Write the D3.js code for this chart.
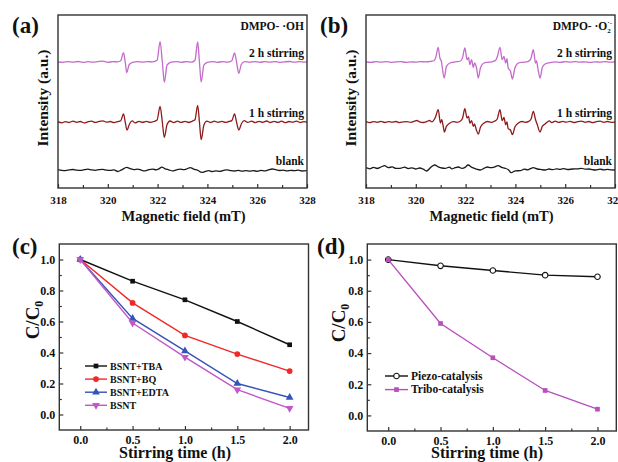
<!DOCTYPE html>
<html>
<head>
<meta charset="utf-8">
<script src="https://cdn.jsdelivr.net/npm/d3@7"></script>
<style>
body { margin: 0; background: #fff; }
svg { display: block; font-family: "Liberation Serif", "Times New Roman", serif; font-weight: bold; }
</style>
</head>
<body>
<svg id="fig" width="618" height="462"></svg>
<script>
// ---- EPR spectra, [field mT, intensity a.u.] ----
var fieldTicks = [318, 320, 322, 324, 326, 328];
var fieldMinor = [319, 321, 323, 325, 327];

var ohStir2h = [[318.0,0.2],[318.2,-0.3],[318.4,0.4],[318.6,-0.2],[318.8,0.5],[319.0,-0.4],[319.2,0.3],[319.4,-0.2],[319.6,0.4],[319.8,0.9],[320.0,-0.3],[320.2,0.3],[320.4,0.2],[320.52,1.2],[320.63,9.4],[320.70,0],[320.76,-10.6],[320.86,-2.5],[321.0,-0.3],[321.2,0.4],[321.4,-0.2],[321.6,0.3],[321.8,0.2],[321.98,1.8],[322.10,20.4],[322.19,0],[322.27,-20.2],[322.38,-3],[322.55,-0.2],[322.75,0.4],[322.95,-0.3],[323.15,0.3],[323.35,-0.2],[323.50,1.8],[323.61,20],[323.68,0],[323.75,-20],[323.86,-3],[324.0,-0.3],[324.2,0.4],[324.4,-0.3],[324.6,0.3],[324.8,-0.2],[324.98,1.2],[325.09,9],[325.17,0],[325.26,-11.4],[325.36,-2.5],[325.5,0.3],[325.7,-0.2],[325.9,0.4],[326.1,-0.3],[326.3,0.3],[326.5,-0.2],[326.7,0.4],[326.9,-0.3],[327.1,0.2],[327.3,0.5],[327.5,-0.2],[327.7,0.3],[327.9,-0.1],[328.0,0.2]];
var ohStir1h = [[318.0,0.4],[318.15,-0.8],[318.3,0.3],[318.45,-0.5],[318.6,0.9],[318.75,-0.3],[318.9,0.5],[319.05,-0.9],[319.2,0.2],[319.35,0.8],[319.5,-0.4],[319.65,0.6],[319.8,1.2],[319.95,-0.2],[320.1,0.5],[320.25,-0.6],[320.4,0.4],[320.52,1.3],[320.63,8],[320.70,0],[320.77,-8],[320.88,-1.5],[320.98,1.2],[321.1,-0.9],[321.25,0.6],[321.4,-0.4],[321.55,0.7],[321.7,-0.3],[321.85,0.5],[321.98,2],[322.10,15.6],[322.19,0],[322.27,-15.4],[322.38,-2.5],[322.5,1],[322.65,-0.6],[322.8,0.8],[322.95,-0.4],[323.1,0.6],[323.25,-0.5],[323.38,0.7],[323.50,2.2],[323.61,16.6],[323.68,0],[323.75,-17.7],[323.86,-3],[323.98,0.9],[324.12,-0.5],[324.28,0.8],[324.42,-0.3],[324.58,0.6],[324.72,-0.4],[324.86,0.5],[324.98,1.4],[325.09,8],[325.17,0],[325.26,-8],[325.37,-1.5],[325.48,1.3],[325.62,-0.4],[325.78,0.9],[325.92,-0.6],[326.08,0.7],[326.22,-0.3],[326.38,1],[326.52,-0.5],[326.68,0.6],[326.82,-0.4],[326.98,0.8],[327.12,-0.6],[327.28,0.5],[327.42,-0.2],[327.58,0.9],[327.72,-0.5],[327.88,0.4],[328.0,-0.2]];
var ohBlank = [[318.0,0.5],[318.15,-0.3],[318.3,-0.6],[318.45,0.2],[318.6,0.5],[318.75,-0.2],[318.9,-0.4],[319.05,0.3],[319.2,0.8],[319.35,0.1],[319.5,-0.3],[319.65,0.4],[319.8,0.6],[319.95,-0.1],[320.1,-0.4],[320.25,0.2],[320.4,-1.5],[320.55,0.1],[320.76,2.6],[320.9,1.4],[321.05,0.4],[321.2,0.9],[321.35,-0.2],[321.5,-0.8],[321.65,0.3],[321.8,0.8],[321.95,0.2],[322.05,1.1],[322.17,2.8],[322.3,1.2],[322.45,0.2],[322.6,-0.9],[322.75,0.1],[322.9,0.8],[323.05,0.3],[323.18,1.2],[323.31,2.4],[323.45,0.9],[323.6,-0.2],[323.78,-2.4],[323.92,-1.4],[324.05,-0.6],[324.2,-1.6],[324.35,-0.8],[324.5,-1.3],[324.65,-0.4],[324.8,0.2],[324.95,-0.7],[325.1,-1.0],[325.25,-0.4],[325.4,-1.2],[325.55,-0.6],[325.7,-1.1],[325.85,-0.7],[326.0,-1.3],[326.15,-0.4],[326.3,-0.9],[326.45,0.2],[326.6,1.0],[326.75,0.3],[326.9,-0.5],[327.05,-0.2],[327.2,-0.9],[327.35,-0.3],[327.5,-0.7],[327.65,-0.2],[327.8,-1.0],[328.0,-0.6]];

var o2Stir2h = [[318.0,0.2],[318.2,-0.3],[318.4,0.3],[318.6,-0.2],[318.8,0.4],[319.0,-0.3],[319.2,0.2],[319.4,0.3],[319.6,-0.3],[319.8,0.2],[320.0,-0.2],[320.2,0.4],[320.4,0.1],[320.6,0.6],[320.74,1.5],[320.80,4.5],[320.90,14.6],[320.96,5],[320.99,2.5],[321.02,1.5],[321.06,-5],[321.14,-16],[321.23,-4.4],[321.37,-1],[321.5,-0.3],[321.65,0.3],[321.8,1.0],[321.88,4.6],[321.97,14],[322.06,2.3],[322.12,4.6],[322.17,-2.7],[322.24,2.3],[322.31,-5.4],[322.36,-1],[322.44,-6],[322.51,-16],[322.60,-5.4],[322.74,-1],[322.9,-0.3],[323.05,0.2],[323.2,1.5],[323.27,5],[323.38,14.6],[323.47,2.3],[323.54,5.6],[323.61,-1],[323.66,3.3],[323.71,-6],[323.80,-9],[323.88,-17],[323.98,-6],[324.12,-1],[324.3,-0.3],[324.5,0.4],[324.56,1.2],[324.63,4],[324.72,12.3],[324.81,-1],[324.85,1.0],[324.90,-6],[324.99,-16],[325.08,-5.4],[325.19,-2],[325.39,-0.7],[325.6,0.2],[325.8,-0.3],[326.0,0.3],[326.2,-0.1],[326.4,0.3],[326.6,-0.2],[326.8,0.2],[327.0,-0.3],[327.2,0.2],[327.4,-0.2],[327.6,0.3],[327.8,-0.2],[328.0,0.1]];
var o2Stir1h = [[318.0,0.3],[318.15,-0.6],[318.3,0.4],[318.45,-0.3],[318.6,0.6],[318.75,-0.5],[318.9,0.3],[319.05,-0.2],[319.2,0.5],[319.35,-0.6],[319.5,0.2],[319.65,0.4],[319.8,-0.4],[319.95,0.8],[320.05,1.5],[320.15,0.2],[320.3,-0.5],[320.45,0.6],[320.55,1.5],[320.65,0.2],[320.74,2.5],[320.80,5.6],[320.90,12.3],[320.99,-1],[321.04,2.3],[321.10,-4],[321.15,-10],[321.23,-4.4],[321.37,-1],[321.5,0.4],[321.65,-0.3],[321.8,1],[321.88,4],[321.97,13.3],[322.06,4],[322.12,5.6],[322.17,-1],[322.24,1.3],[322.31,-4.4],[322.36,-2],[322.43,-7.7],[322.51,-12],[322.60,-5],[322.74,-1],[322.88,0.5],[323.02,-0.4],[323.16,0.8],[323.27,3],[323.38,12.3],[323.47,1.3],[323.54,4.6],[323.61,-2.7],[323.66,0],[323.71,-6.7],[323.80,-8],[323.88,-12.7],[323.98,-5],[324.12,-1],[324.26,0.5],[324.4,-0.3],[324.54,0.6],[324.63,3],[324.72,10.6],[324.81,2.3],[324.88,-2.7],[324.99,-10],[325.08,-4.4],[325.19,-2],[325.28,0],[325.36,1.2],[325.46,-0.6],[325.6,0.8],[325.75,-0.4],[325.9,0.6],[326.05,-0.2],[326.2,0.7],[326.35,-0.5],[326.5,0.4],[326.65,0.9],[326.8,-0.3],[326.95,0.5],[327.1,-0.6],[327.25,0.4],[327.4,0.8],[327.55,-0.3],[327.7,0.5],[327.85,-0.4],[328.0,0.2]];
var o2Blank = [[318.0,2.3],[318.15,1.2],[318.3,2.6],[318.45,1.5],[318.6,3.0],[318.75,4.3],[318.9,2.4],[319.05,3.1],[319.2,1.6],[319.37,1.7],[319.55,2.8],[319.7,1.4],[319.85,2.2],[320.0,1.0],[320.15,2.0],[320.3,0.8],[320.43,-1.0],[320.6,2.6],[320.76,5.0],[320.9,3.2],[321.05,2.0],[321.18,1.7],[321.35,2.8],[321.45,1.1],[321.58,2.3],[321.72,3.0],[321.85,1.6],[321.98,2.6],[322.10,5.0],[322.25,2.6],[322.4,1.2],[322.59,0],[322.75,1.8],[322.88,3.0],[322.99,2.3],[323.15,2.9],[323.31,4.3],[323.45,2.6],[323.59,1.7],[323.72,0.2],[323.83,-2.7],[324.0,-0.8],[324.2,-0.7],[324.35,0.8],[324.5,0.2],[324.6,1.3],[324.72,2.3],[324.88,1.0],[325.05,0.4],[325.2,0],[325.35,1.0],[325.5,0.3],[325.65,1.2],[325.81,0.7],[325.95,1.4],[326.1,0.5],[326.3,1.0],[326.5,1.2],[326.65,1.7],[326.8,0.8],[326.95,1.0],[327.1,0.3],[327.22,0],[327.4,0.8],[327.55,0.2],[327.7,0.6],[327.85,0.1],[328.0,0]];

// ---- degradation curves ----
var stirTimes = [0, 0.5, 1.0, 1.5, 2.0];
var bsntTba  = [1.0, 0.86, 0.74, 0.60, 0.45];
var bsntBq   = [1.0, 0.72, 0.51, 0.39, 0.28];
var bsntEdta = [1.0, 0.62, 0.41, 0.20, 0.11];
var bsnt     = [1.0, 0.59, 0.37, 0.16, 0.04];
var piezo    = [1.0, 0.96, 0.93, 0.90, 0.89];
var tribo    = [1.0, 0.59, 0.37, 0.16, 0.04];
var timeTicks = [0, 0.5, 1.0, 1.5, 2.0];
var timeMinor = [0.25, 0.75, 1.25, 1.75];
var ratioTicks = [0, 0.2, 0.4, 0.6, 0.8, 1.0];
var ratioMinor = [0.1, 0.3, 0.5, 0.7, 0.9];

var svg = d3.select('#fig');
var ink = '#111';

function styleAxis(sel, size) {
    sel.attr('font-family', null).attr('font-size', null);
    sel.select('.domain').remove();
    sel.selectAll('line').attr('stroke', '#333').attr('stroke-width', 1.2);
    sel.selectAll('text').attr('fill', ink).attr('font-size', size)
        .style('font-family', '"Liberation Serif", "Times New Roman", serif').style('font-weight', 'bold');
}

function panelLabel(txt, x, y) {
    svg.append('text').attr('x', x).attr('y', y).attr('font-size', 23).attr('fill', ink).text(txt);
}

function drawEpr(cfg) {
    var x = d3.scaleLinear().domain([318, 328]).range([cfg.left, cfg.right]);
    var y = d3.scaleLinear().domain([-18, 155]).range([188, 15]);
    var g = svg.append('g');

    cfg.traces.forEach(function(t) {
        var line = d3.line()
            .x(function(d) { return x(d[0]); })
            .y(function(d) { return y(d[1] + t.offset); })
            .curve(d3.curveMonotoneX);
        g.append('path').datum(t.data)
            .attr('d', line).attr('fill', 'none')
            .attr('stroke', t.color).attr('stroke-width', 1.3);
        g.append('text').attr('x', cfg.right - 3).attr('y', y(t.offset) + t.dy)
            .attr('text-anchor', 'end').attr('font-size', 11.5).attr('fill', ink).text(t.label);
    });

    g.append('g').attr('transform', 'translate(0,188)')
        .call(d3.axisBottom(x).tickValues(fieldMinor).tickSize(-3).tickFormat(''))
        .call(styleAxis, 11);
    g.append('g').attr('transform', 'translate(0,188)')
        .call(d3.axisBottom(x).tickValues(fieldTicks).tickSize(-4).tickPadding(8).tickFormat(d3.format('d')))
        .call(styleAxis, 11);

    g.append('rect').attr('x', cfg.left).attr('y', 15)
        .attr('width', cfg.right - cfg.left).attr('height', 173)
        .attr('fill', 'none').attr('stroke', '#333').attr('stroke-width', 1.4);

    var sp = g.append('text').attr('x', cfg.right - 3).attr('y', 30)
        .attr('text-anchor', 'end').attr('font-size', 11.5).attr('fill', ink);
    cfg.species(sp);

    g.append('text').attr('x', (cfg.left + cfg.right) / 2 + 1).attr('y', 221)
        .attr('text-anchor', 'middle').attr('font-size', 14.5).attr('fill', ink)
        .text('Magnetic field (mT)');
    g.append('text').attr('transform', 'translate(' + (cfg.left - 10) + ',98) rotate(-90)')
        .attr('text-anchor', 'middle').attr('font-size', 15.5).attr('fill', ink)
        .text('Intensity (a.u.)');
}

function drawKinetics(cfg) {
    var x = d3.scaleLinear().domain([-0.2, 2.18]).range([cfg.left, cfg.right]);
    var y = d3.scaleLinear().domain([-0.1, 1.1]).range([cfg.bottom, cfg.top]);
    var g = svg.append('g');

    g.append('g').attr('transform', 'translate(0,' + cfg.bottom + ')')
        .call(d3.axisBottom(x).tickValues(timeMinor).tickSize(-2.5).tickFormat(''))
        .call(styleAxis, 12);
    g.append('g').attr('transform', 'translate(0,' + cfg.bottom + ')')
        .call(d3.axisBottom(x).tickValues(timeTicks).tickSize(-4).tickPadding(5).tickFormat(d3.format('.1f')))
        .call(styleAxis, 12);
    g.append('g').attr('transform', 'translate(' + cfg.left + ',0)')
        .call(d3.axisLeft(y).tickValues(ratioMinor).tickSize(-2.5).tickFormat(''))
        .call(styleAxis, 12);
    g.append('g').attr('transform', 'translate(' + cfg.left + ',0)')
        .call(d3.axisLeft(y).tickValues(ratioTicks).tickSize(-4).tickPadding(4).tickFormat(d3.format('.1f')))
        .call(styleAxis, 12);

    g.append('rect').attr('x', cfg.left).attr('y', cfg.top)
        .attr('width', cfg.right - cfg.left).attr('height', cfg.bottom - cfg.top)
        .attr('fill', 'none').attr('stroke', '#333').attr('stroke-width', 1.4);

    var line = d3.line()
        .x(function(d, i) { return x(stirTimes[i]); })
        .y(function(d) { return y(d); });

    cfg.series.forEach(function(s, k) {
        g.append('path').datum(s.values).attr('d', line)
            .attr('fill', 'none').attr('stroke', s.color).attr('stroke-width', 1.4);
        var sym = d3.symbol().type(s.shape).size(s.size);
        g.selectAll(null).data(s.values).enter().append('path')
            .attr('d', sym)
            .attr('transform', function(d, i) {
                return 'translate(' + x(stirTimes[i]) + ',' + y(d) + ')' + (s.flip ? ' rotate(180)' : '');
            })
            .attr('fill', s.fill || s.color).attr('stroke', s.color).attr('stroke-width', s.fill ? 1.1 : 0);

        var ly = cfg.legendY + k * cfg.legendStep;
        g.append('line').attr('x1', cfg.legendX).attr('x2', cfg.legendX + cfg.legendLen)
            .attr('y1', ly).attr('y2', ly).attr('stroke', s.color).attr('stroke-width', 1.4);
        g.append('path').attr('d', sym)
            .attr('transform', 'translate(' + (cfg.legendX + cfg.legendLen / 2) + ',' + ly + ')' + (s.flip ? ' rotate(180)' : ''))
            .attr('fill', s.fill || s.color).attr('stroke', s.color).attr('stroke-width', s.fill ? 1.1 : 0);
        g.append('text').attr('x', cfg.legendX + cfg.legendLen + 3).attr('y', ly + 3.6)
            .attr('font-size', cfg.legendFont).attr('fill', ink).text(s.name);
    });

    g.append('text').attr('x', cfg.titleX).attr('y', 458)
        .attr('text-anchor', 'middle').attr('font-size', 16).attr('fill', ink)
        .text('Stirring time (h)');
    var yl = g.append('text').attr('transform', 'translate(' + (cfg.left - cfg.ylabelGap) + ',' + cfg.ylabelY + ') rotate(-90)')
        .attr('text-anchor', 'middle').attr('font-size', 19).attr('fill', ink);
    yl.append('tspan').text('C/C');
    yl.append('tspan').attr('font-size', 12).attr('dy', 4).text('0');
}

// (a) DMPO-OH
drawEpr({
    left: 58, right: 307,
    traces: [
        { data: ohStir2h, offset: 108, color: '#c46bc9', label: '2 h stirring', dy: -5 },
        { data: ohStir1h, offset: 48, color: '#8e1b1b', label: '1 h stirring', dy: -5 },
        { data: ohBlank, offset: 0, color: '#1a1a1a', label: 'blank', dy: -5 }
    ],
    species: function(t) { t.text('DMPO- \u00b7OH'); }
});
// (b) DMPO-O2-
drawEpr({
    left: 366, right: 615,
    traces: [
        { data: o2Stir2h, offset: 108, color: '#c46bc9', label: '2 h stirring', dy: -5 },
        { data: o2Stir1h, offset: 48, color: '#8e1b1b', label: '1 h stirring', dy: -5 },
        { data: o2Blank, offset: 0, color: '#1a1a1a', label: 'blank', dy: -5 }
    ],
    species: function(t) {
        t.append('tspan').text('DMPO- \u00b7O');
        t.append('tspan').attr('font-size', 7).attr('dy', 3).text('2');
        t.append('tspan').attr('font-size', 7).attr('dx', -3.5).attr('dy', -8).text('\u00b7-');
    }
});

drawKinetics({
    left: 59.3, right: 308.5, top: 244, bottom: 430,
    titleX: 175, ylabelY: 320, ylabelGap: 20,
    legendX: 85, legendLen: 22, legendY: 366, legendStep: 13.1, legendFont: 10,
    series: [
        { name: 'BSNT+TBA', values: bsntTba, color: '#111111', shape: d3.symbolSquare, size: 22 },
        { name: 'BSNT+BQ', values: bsntBq, color: '#f02828', shape: d3.symbolCircle, size: 26 },
        { name: 'BSNT+EDTA', values: bsntEdta, color: '#3553b8', shape: d3.symbolTriangle, size: 26 },
        { name: 'BSNT', values: bsnt, color: '#c157c8', shape: d3.symbolTriangle, size: 26, flip: true }
    ]
});

drawKinetics({
    left: 367.3, right: 616.3, top: 244, bottom: 431,
    titleX: 487, ylabelY: 323, ylabelGap: 22,
    legendX: 385, legendLen: 23, legendY: 376, legendStep: 13.6, legendFont: 11.5,
    series: [
        { name: 'Piezo-catalysis', values: piezo, color: '#111111', shape: d3.symbolCircle, size: 24, fill: '#ffffff' },
        { name: 'Tribo-catalysis', values: tribo, color: '#b94fbf', shape: d3.symbolSquare, size: 22 }
    ]
});

panelLabel('(a)', 12, 33);
panelLabel('(b)', 320, 33);
panelLabel('(c)', 12, 254);
panelLabel('(d)', 317, 254);
</script>
</body>
</html>
